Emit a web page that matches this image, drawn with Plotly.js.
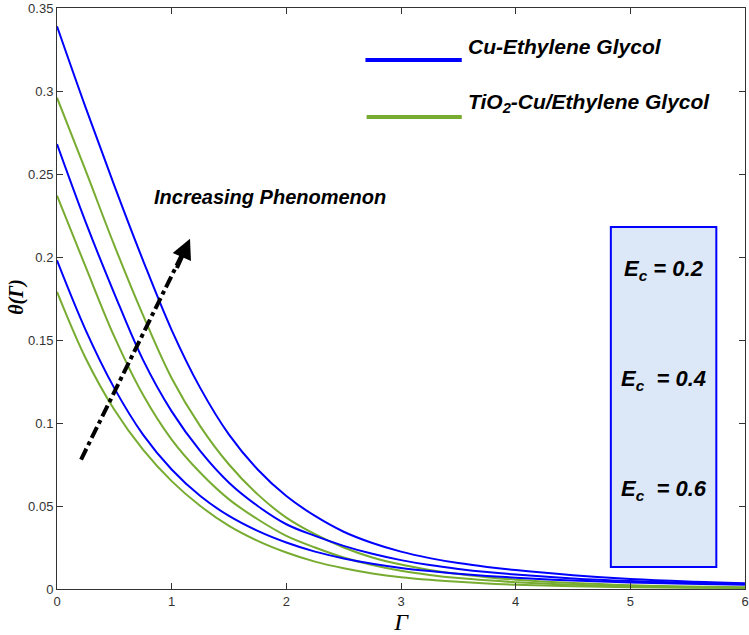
<!DOCTYPE html>
<html>
<head>
<meta charset="utf-8">
<script src="https://cdn.plot.ly/plotly-3.0.1.min.js"></script>
<style>html,body{margin:0;padding:0;background:#fff;}#chart{width:749px;height:635px;}</style>
</head>
<body>
<div id="chart"></div>
<script>
// Γ values
const gammaVals = [0, 0.25, 0.5, 0.75, 1, 1.25, 1.5, 1.75, 2, 2.25, 2.5, 2.75, 3, 3.25, 3.5, 3.75, 4, 4.5, 5, 5.5, 6];
// Cu-Ethylene Glycol (blue), Ec = 0.2, 0.4, 0.6
const cuEc02 = [0.198, 0.156, 0.121, 0.093, 0.072, 0.056, 0.044, 0.035, 0.028, 0.0225, 0.0184, 0.0152, 0.0127, 0.0108, 0.0092, 0.0079, 0.0068, 0.0051, 0.0039, 0.0031, 0.0025];
const cuEc04 = [0.268, 0.221, 0.178, 0.138, 0.107, 0.083, 0.064, 0.050, 0.039, 0.032, 0.026, 0.0212, 0.0174, 0.0144, 0.0121, 0.0102, 0.0087, 0.0064, 0.0048, 0.0037, 0.0030];
const cuEc06 = [0.339, 0.290, 0.243, 0.198, 0.156, 0.121, 0.093, 0.072, 0.056, 0.044, 0.0345, 0.0277, 0.0225, 0.0186, 0.0156, 0.0133, 0.0114, 0.0083, 0.0060, 0.0045, 0.0035];
// TiO2-Cu/Ethylene Glycol (green), Ec = 0.2, 0.4, 0.6
const hyEc02 = [0.179, 0.139, 0.108, 0.084, 0.065, 0.050, 0.038, 0.029, 0.022, 0.0165, 0.0125, 0.0094, 0.0071, 0.0055, 0.0043, 0.0033, 0.0026, 0.0017, 0.0011, 0.0008, 0.0006];
const hyEc04 = [0.237, 0.194, 0.152, 0.117, 0.090, 0.070, 0.054, 0.042, 0.032, 0.025, 0.019, 0.0145, 0.0110, 0.0085, 0.0066, 0.0052, 0.0041, 0.0026, 0.0017, 0.0011, 0.0008];
const hyEc06 = [0.296, 0.252, 0.207, 0.165, 0.127, 0.098, 0.075, 0.057, 0.043, 0.033, 0.025, 0.019, 0.0147, 0.0115, 0.0090, 0.0071, 0.0056, 0.0036, 0.0023, 0.0015, 0.0011];

const xTicks = [0, 1, 2, 3, 4, 5, 6];
const yTicks = [0, 0.05, 0.1, 0.15, 0.2, 0.25, 0.3, 0.35];
const yTickText = ['0', '0.05', '0.1', '0.15', '0.2', '0.25', '0.3', '0.35'];
const legendNames = ['Cu-Ethylene Glycol', 'TiO<sub>2</sub>-Cu/Ethylene Glycol'];
const ecLabels = ['E<sub>c</sub> = 0.2', 'E<sub>c</sub>  = 0.4', 'E<sub>c</sub>  = 0.6'];

const BLUE = '#0000ff';
const GREEN = '#77ac30';

function curve(y, color) {
  return {x: gammaVals, y: y, type: 'scatter', mode: 'lines',
          line: {color: color, width: 2, shape: 'spline', smoothing: 1},
          showlegend: false, hoverinfo: 'skip'};
}

// arrow geometry (annotation positions, data units)
const arrowStart = [0.21, 0.078];
const arrowEnd = [1.16, 0.211];

const traces = [
  curve(hyEc02, GREEN), curve(hyEc04, GREEN), curve(hyEc06, GREEN),
  curve(cuEc02, BLUE), curve(cuEc04, BLUE), curve(cuEc06, BLUE)
];

const SANS = 'Liberation Sans, Arial, sans-serif';
const boldItalic = {family: SANS, size: 21, color: '#000'};

const layout = {
  width: 749, height: 635,
  margin: {l: 57, r: 4, t: 8, b: 46},
  paper_bgcolor: '#fff', plot_bgcolor: '#fff',
  font: {family: SANS, size: 13, color: '#333'},
  xaxis: {
    range: [0, 6], tickvals: xTicks, ticks: 'inside', ticklen: 6, tickcolor: '#333',
    showline: true, linecolor: '#333', linewidth: 1, mirror: 'ticks',
    showgrid: false, zeroline: false,
    tickfont: {size: 13, color: '#333'},
    title: {text: '<i>Γ</i>', font: {family: 'Liberation Serif, Times New Roman, serif', size: 24, color: '#000'}, standoff: 4}
  },
  yaxis: {
    range: [0, 0.35], tickvals: yTicks, ticktext: yTickText, ticks: 'inside', ticklen: 6, tickcolor: '#333',
    showline: true, linecolor: '#333', linewidth: 1, mirror: 'ticks',
    showgrid: false, zeroline: false,
    tickfont: {size: 13, color: '#333'}
  },
  shapes: [
    // E_c box
    {type: 'rect', xref: 'x', yref: 'y', x0: 4.83, x1: 5.75, y0: 0.0133, y1: 0.218,
     fillcolor: '#dce8f8', line: {color: BLUE, width: 2}, layer: 'above'},
    // legend lines
    {type: 'line', xref: 'x', yref: 'y', x0: 2.69, x1: 3.53, y0: 0.3187, y1: 0.3187, line: {color: BLUE, width: 4}},
    {type: 'line', xref: 'x', yref: 'y', x0: 2.70, x1: 3.53, y0: 0.2843, y1: 0.2843, line: {color: GREEN, width: 4}},
    // arrow shaft
    {type: 'line', xref: 'x', yref: 'y', x0: arrowStart[0], y0: arrowStart[1], x1: arrowEnd[0] - 0.03, y1: arrowEnd[1] - 0.004,
     line: {color: '#000', width: 4, dash: 'dashdot'}}
  ],
  annotations: [
    // y-axis title
    {xref: 'paper', yref: 'paper', x: -0.058, y: 0.503, xanchor: 'center', yanchor: 'middle', textangle: -90,
     text: '<b><i>θ(Γ)</i></b>', showarrow: false,
     font: {family: 'Liberation Serif, Times New Roman, serif', size: 20, color: '#000'}},
    {xref: 'x', yref: 'y', x: 3.565, y: 0.327, text: '<b><i>' + legendNames[0] + '</i></b>', showarrow: false, xanchor: 'left', yanchor: 'middle',
     font: boldItalic},
    {xref: 'x', yref: 'y', x: 3.565, y: 0.2925, text: '<b><i>' + legendNames[1] + '</i></b>', showarrow: false, xanchor: 'left', yanchor: 'middle',
     font: boldItalic},
    {xref: 'x', yref: 'y', x: 0.83, y: 0.236, text: '<b><i>Increasing Phenomenon</i></b>', showarrow: false, xanchor: 'left', yanchor: 'middle',
     font: {family: SANS, size: 20, color: '#000'}},
    {xref: 'x', yref: 'y', x: 5.29, y: 0.192, text: '<b><i>' + ecLabels[0] + '</i></b>', showarrow: false,
     font: {family: SANS, size: 22, color: '#000'}},
    {xref: 'x', yref: 'y', x: 5.29, y: 0.126, text: '<b><i>' + ecLabels[1] + '</i></b>', showarrow: false,
     font: {family: SANS, size: 22, color: '#000'}},
    {xref: 'x', yref: 'y', x: 5.29, y: 0.0595, text: '<b><i>' + ecLabels[2] + '</i></b>', showarrow: false,
     font: {family: SANS, size: 22, color: '#000'}},
    // arrow head
    {xref: 'x', yref: 'y', axref: 'x', ayref: 'y', x: arrowEnd[0], y: arrowEnd[1],
     ax: arrowEnd[0] - 0.12, ay: arrowEnd[1] - 0.0185, text: '', showarrow: true,
     arrowhead: 2, arrowsize: 1, arrowwidth: 4, arrowcolor: '#000'}
  ]
};

traces[0].name = legendNames[1];
traces[3].name = legendNames[0];

Plotly.newPlot('chart', traces, layout, {displayModeBar: false, staticPlot: true});
</script>
</body>
</html>
